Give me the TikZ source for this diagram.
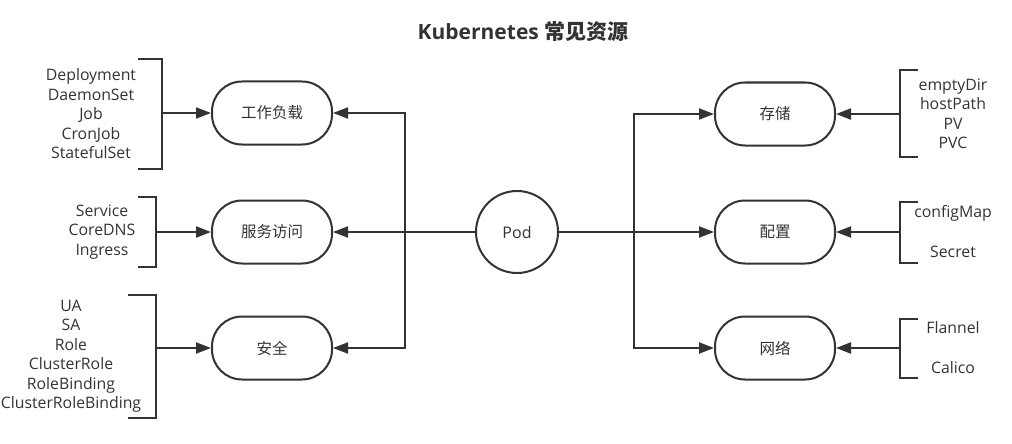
\documentclass[tikz,border=0pt]{standalone}
\usepackage{fontspec}
\setmainfont{Open Sans}
\newfontfamily\cjk{Noto Sans CJK SC}
\usetikzlibrary{arrows.meta}
\definecolor{ink}{HTML}{333333}

\begin{document}
\begin{tikzpicture}[x=1pt, y=-1pt, line width=2pt, draw=ink, text=ink,
  kind/.style={draw=ink, rounded corners=30pt, minimum width=120pt,
    minimum height=63pt, font=\cjk\fontsize{15.5}{18}\selectfont},
  list/.style={align=center, inner sep=0pt, font=\fontsize{15.8}{19.5}\selectfont},
  feed/.style={-{Triangle[length=15pt,width=11pt]}}]
  \useasboundingbox (0,0) rectangle (1012,444);

  % title
  \node[font=\bfseries\fontsize{21}{24}\selectfont] (title) at (523,32)
  {Kubernetes {\cjk\bfseries 常见资源}};

  % pod in the middle
  \node[draw, circle, minimum size=82pt, font=\fontsize{16}{18}\selectfont] (pod)
  at (517,232) {Pod};

  % resource kinds, left and right
  \foreach \name/\y/\txt in {work/113/工作负载, svc/232/服务访问, sec/348/安全} {
    \node[kind] (\name) at (272,\y) {\txt};
  }
  \foreach \name/\y/\txt in {store/114/存储, conf/232/配置, net/348/网络} {
    \node[kind] (\name) at (775,\y) {\txt};
  }

  % pod to the kinds
  \coordinate (lbus) at (405,232);
  \coordinate (rbus) at (634,232);
  \draw[feed] (pod) -- (svc);
  \draw[feed] (lbus) |- (work);
  \draw[feed] (lbus) |- (sec);
  \draw[feed] (pod) -- (conf);
  \draw[feed] (rbus) |- (store);
  \draw[feed] (rbus) |- (net);

  % lists on the left
  \node[list] (worklist) at (91,114)
  {Deployment\\DaemonSet\\Job\\CronJob\\StatefulSet};
  \node[list] (svclist) at (102,232) {Service\\CoreDNS\\Ingress};
  \node[list] (seclist) at (71,356)
  {UA\\SA\\Role\\ClusterRole\\RoleBinding\\ClusterRoleBinding};

  % lists on the right
  \node[list] (storelist) at (953,114) {emptyDir\\hostPath\\PV\\PVC};
  \node[list] (conflist) at (953,232) {configMap\\[20.5pt]Secret};
  \node[list] (netlist) at (953,348) {Flannel\\[20.5pt]Calico};

  % brackets round the lists
  \draw (138,59) -| (162,169) -- (138,169);
  \draw (138,197) -| (156,267) -- (138,267);
  \draw (128,295) -| (156,418) -- (128,418);
  \draw (918,70) -| (900,157) -- (918,157);
  \draw (918,202) -| (900,263) -- (918,263);
  \draw (918,319) -| (900,378) -- (918,378);

  % brackets to the kinds
  \coordinate (workjoin) at (162,113);
  \coordinate (svcjoin) at (156,232);
  \coordinate (secjoin) at (156,348);
  \coordinate (storejoin) at (900,114);
  \coordinate (confjoin) at (900,232);
  \coordinate (netjoin) at (900,348);
  \foreach \name in {work, svc, sec, store, conf, net} {
    \draw[feed] (\name join) -- (\name);
  }

\end{tikzpicture}
\end{document}
